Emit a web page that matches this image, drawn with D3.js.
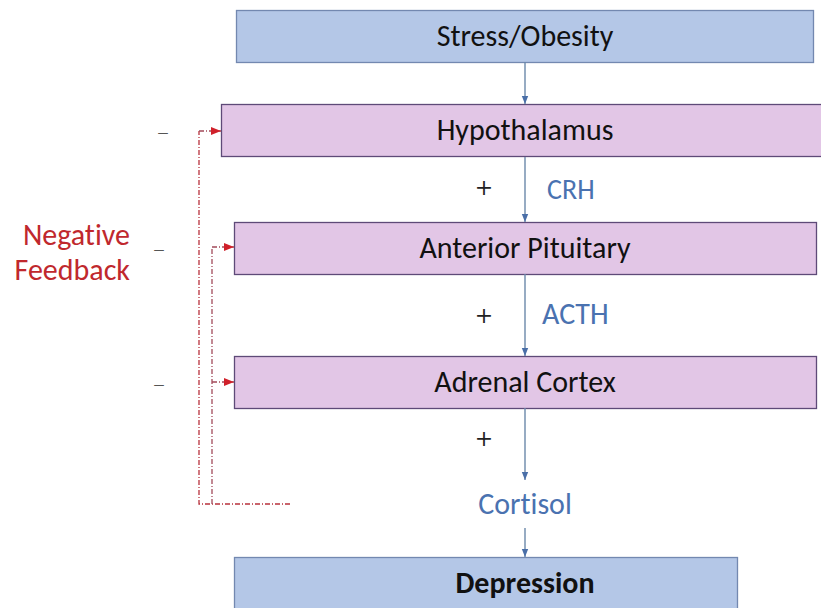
<!DOCTYPE html>
<html><head><meta charset="utf-8">
<script src="https://cdn.jsdelivr.net/npm/d3@7/dist/d3.min.js"></script>
<style>html,body{margin:0;padding:0;background:#fff;}svg{display:block;}text{font-variant-ligatures:none;font-feature-settings:"liga" 0;}</style>
</head><body>
<svg id="c" width="821" height="608"></svg>
<script>
// ---- data ----
const stages = ["Stress/Obesity", "Hypothalamus", "Anterior Pituitary", "Adrenal Cortex", "Cortisol", "Depression"];
const stageKinds = ["cause", "gland", "gland", "gland", "hormone", "outcome"];
const hormones = ["", "CRH", "ACTH", "", "", ""];      // hormone released by stage i -> i+1
const signs = ["", "+", "+", "+", "", ""];             // stimulation sign between stage i -> i+1
const feedbackTargets = ["Hypothalamus", "Anterior Pituitary", "Adrenal Cortex"];
const feedbackSign = "\u2013";
const feedbackLabel = ["Negative", "Feedback"];

// ---- layout ----
const svg = d3.select("#c");
const font = "Carlito, Lato, 'Open Sans', sans-serif";
const cx = 525;
const yTop = {"Stress/Obesity":[10,62],"Hypothalamus":[104,156],"Anterior Pituitary":[222,274],"Adrenal Cortex":[356,408],"Cortisol":[480,528],"Depression":[557,620]};
const xSpan = {cause:[236,813], gland:[234,816], outcome:[234,737]};
const xSpanOverride = {"Hypothalamus":[221,830]};
const fills = {cause:"#b4c7e7", outcome:"#b4c7e7", gland:"#e2c6e6"};
const strokes = {cause:"#7388b0", outcome:"#7388b0", gland:"#5e4a78"};

const defs = svg.append("defs");
defs.append("marker").attr("id","ab").attr("viewBox","0 0 10 10").attr("refX",10).attr("refY",5)
  .attr("markerWidth",6).attr("markerHeight",6).attr("orient","auto")
  .append("path").attr("d","M0,1 L10,5 L0,9 Z").attr("fill","#4a6fa8");
defs.append("marker").attr("id","ar").attr("viewBox","0 0 10 10").attr("refX",10).attr("refY",5)
  .attr("markerWidth",8).attr("markerHeight",8).attr("orient","auto")
  .append("path").attr("d","M0,1 L10,5 L0,9 Z").attr("fill","#d0202a");

// boxes
stages.forEach((s,i)=>{
  const k = stageKinds[i];
  const [y0,y1] = yTop[s];
  if (k === "hormone") {
    svg.append("text").attr("x",cx).attr("y",514).attr("text-anchor","middle")
      .attr("font-family",font).attr("font-size",30).attr("fill","#4a72b0").text(s);
    return;
  }
  const [x0,x1] = xSpanOverride[s] || xSpan[k];
  svg.append("rect").attr("x",x0+0.5).attr("y",y0+0.5).attr("width",x1-x0).attr("height",y1-y0)
    .attr("fill",fills[k]).attr("stroke",strokes[k]).attr("stroke-width",1.3);
  svg.append("text").attr("x",cx).attr("y",(y0+Math.min(y1,608))/2+10)
    .attr("text-anchor","middle").attr("font-family",font).attr("font-size",30)
    .attr("font-weight",k==="outcome"?"bold":"normal").attr("fill","#111").text(s);
});

// arrows between stages
const arrowY = [[62,104],[157,222],[274,356],[408,480],[528,557]];
for (let i=0;i<stages.length-1;i++){
  const [a,b] = arrowY[i];
  svg.append("line").attr("x1",cx).attr("x2",cx).attr("y1",a).attr("y2",b)
    .attr("stroke","#6b88aa").attr("stroke-width",1.4).attr("marker-end","url(#ab)");
  const midY = i===3 ? 438 : (i===1 ? 187 : 315);
  if (signs[i]) svg.append("text").attr("x",484).attr("y",midY).attr("dy","0.35em")
    .attr("text-anchor","middle").attr("font-family","'DejaVu Serif', serif").attr("font-size",22)
    .attr("font-weight",300).attr("fill","#222").text(signs[i]);
  if (hormones[i]) svg.append("text").attr("x",i===1?547:542).attr("y",i===1?199:324)
    .attr("font-family",font).attr("font-size",i===1?28:30).attr("fill","#4a72b0").text(hormones[i]);
}

// negative feedback lines
const fbStyle = sel => sel.attr("fill","none").attr("stroke","#a24a5a").attr("stroke-width",1.3)
  .attr("stroke-dasharray","5,2,1,2");
const fbY = {"Hypothalamus":131,"Anterior Pituitary":247,"Adrenal Cortex":382};
const fbX = {"Hypothalamus":199,"Anterior Pituitary":212,"Adrenal Cortex":212};
const bottomY = 504;
fbStyle(svg.append("path").attr("d",`M290,${bottomY} H199 V131`)).attr("stroke","#b8323c");
fbStyle(svg.append("path").attr("d",`M212,${bottomY} V247`));
feedbackTargets.forEach(t=>{
  const x0 = fbX[t], x1 = (xSpanOverride[t]||xSpan.gland)[0];
  fbStyle(svg.append("line").attr("x1",x0).attr("x2",x1).attr("y1",fbY[t]).attr("y2",fbY[t]))
    .attr("marker-end","url(#ar)");
  const my = t==="Hypothalamus"?133:(t==="Anterior Pituitary"?250:385);
  svg.append("text").attr("x",t==="Hypothalamus"?163:159).attr("y",my+7)
    .attr("text-anchor","middle").attr("font-family","'DejaVu Sans', sans-serif").attr("font-size",24)
    .attr("font-weight",300).attr("fill","#555").text(feedbackSign);
});

// label
feedbackLabel.forEach((l,i)=>{
  svg.append("text").attr("x",130).attr("y",245+i*35).attr("text-anchor","end")
    .attr("font-family",font).attr("font-size",30).attr("fill","#c0282d").text(l);
});
</script>
</body></html>
